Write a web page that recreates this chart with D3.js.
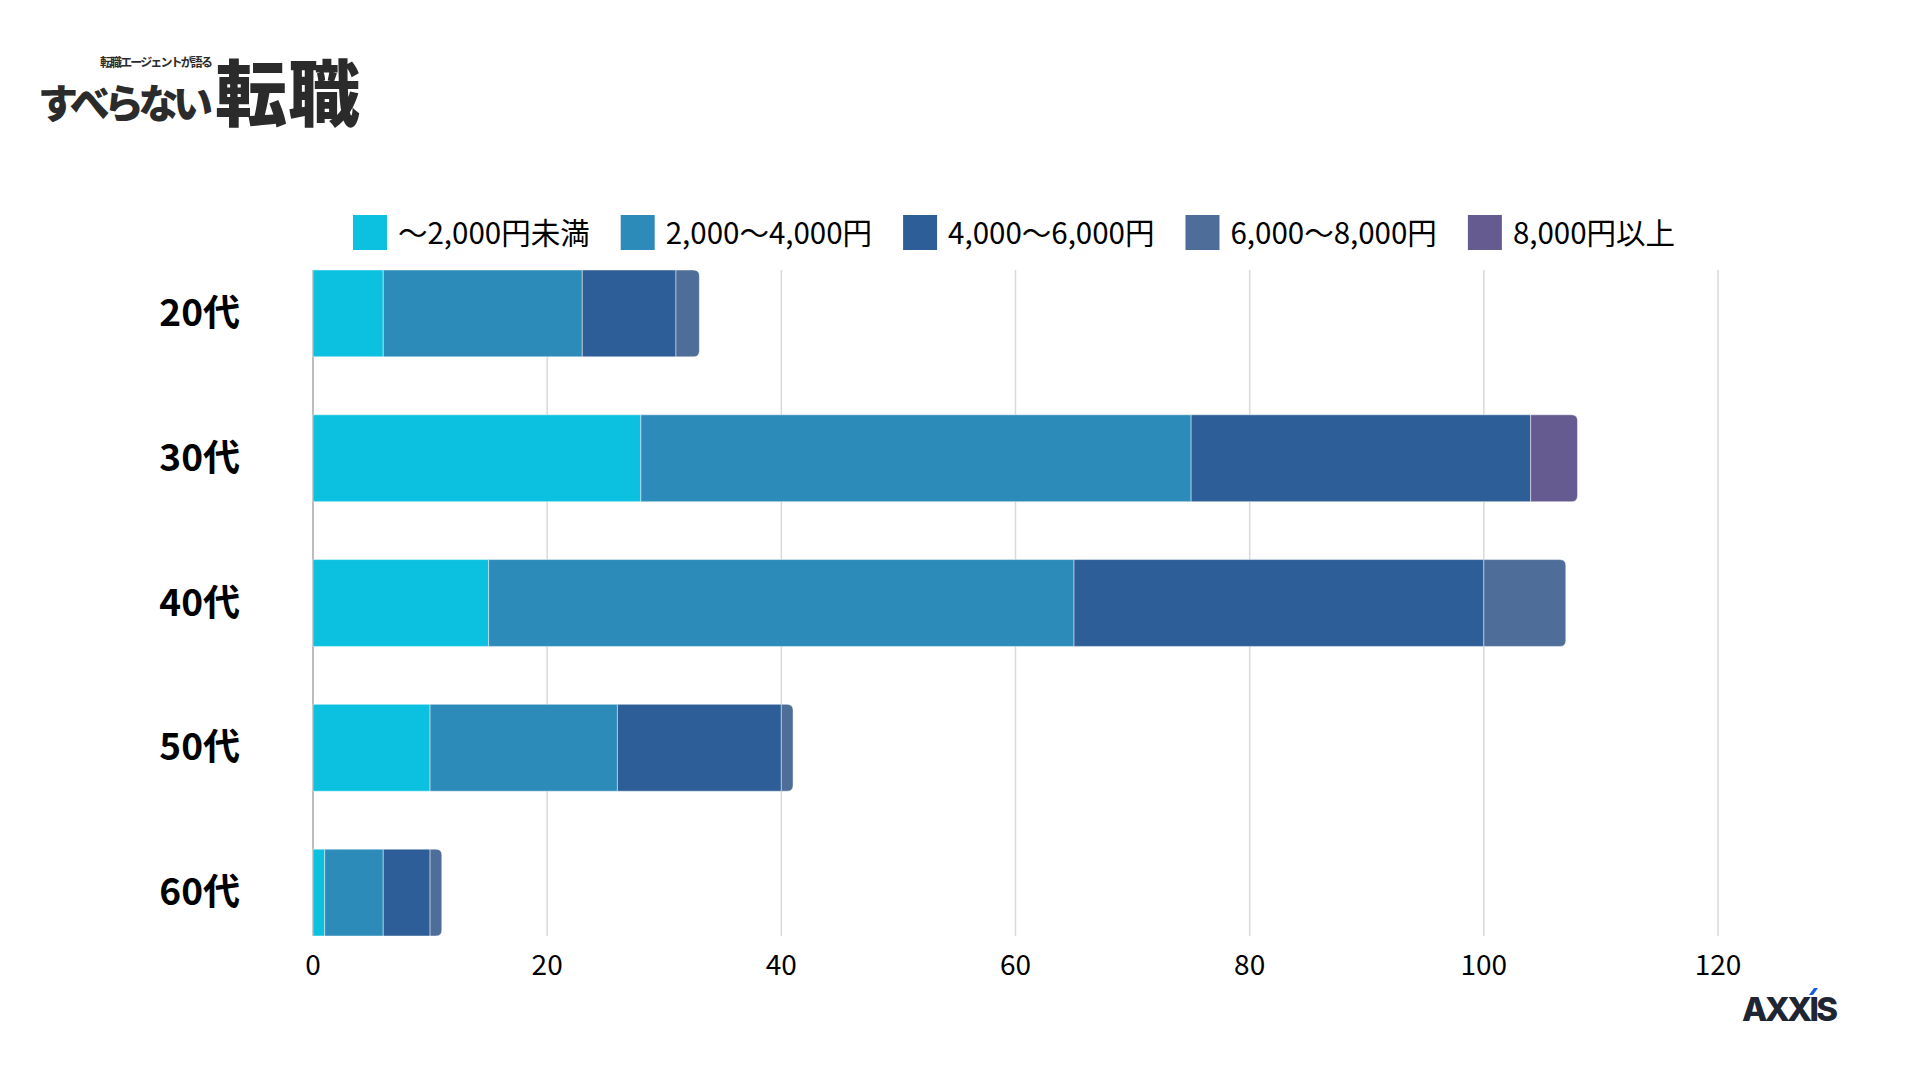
<!DOCTYPE html>
<meta charset="utf-8">
<style>
body { margin: 0; background: #fff; }
text { font-family: "Noto Sans CJK JP", "Noto Sans", sans-serif; }
</style>
<svg width="1920" height="1080"></svg>
<script src="https://d3js.org/d3.v7.min.js"></script>
<script>
var svg = d3.select("svg");

// data
var ages = ["20代", "30代", "40代", "50代", "60代"];
var bands = ["～2,000円未満", "2,000～4,000円", "4,000～6,000円", "6,000～8,000円", "8,000円以上"];
var under2000 = [6, 28, 15, 10, 1];
var from2000 = [17, 47, 50, 16, 5];
var from4000 = [8, 29, 35, 14, 4];
var from6000 = [2, 0, 7, 1, 1];
var over8000 = [0, 4, 0, 0, 0];
var xTicks = [0, 20, 40, 60, 80, 100, 120];
var colors = ["#0cc1df", "#2c8bb8", "#2e5e97", "#4e6e99", "#655b91"];

var series = [under2000, from2000, from4000, from6000, over8000];
var rows = ages.map(function(a, i) {
	var r = { age: a };
	bands.forEach(function(b, j) { r[b] = series[j][i]; });
	return r;
});

var plotLeft = 313, plotRight = 1718, plotTop = 270, plotBottom = 936;
var x = d3.scaleLinear().domain([0, 120]).range([plotLeft, plotRight]);
var y = d3.scaleBand().domain(ages).range([plotTop, plotBottom]).paddingInner(0.4).paddingOuter(0);

// grid
svg.append("g").selectAll("line")
	.data(xTicks.slice(1))
	.join("line")
	.attr("x1", function(d) { return x(d); })
	.attr("x2", function(d) { return x(d); })
	.attr("y1", plotTop)
	.attr("y2", plotBottom)
	.style("stroke", "#d9d9d9")
	.style("stroke-width", 1.5);

svg.append("line")
	.attr("x1", x(0)).attr("x2", x(0))
	.attr("y1", plotTop).attr("y2", plotBottom)
	.style("stroke", "#a6a6a6")
	.style("stroke-width", 1.5);

// bars
var stack = d3.stack().keys(bands)(rows);
var radius = 6;

stack.forEach(function(layer, j) {
	svg.append("g").selectAll("path")
		.data(layer.filter(function(d) { return d[1] > d[0]; }))
		.join("path")
		.attr("d", function(d) {
			var x0 = x(d[0]), x1 = x(d[1]);
			var y0 = y(d.data.age), h = y.bandwidth();
			// round only the last non-empty segment of a row
			var last = true;
			for (var k = j + 1; k < bands.length; k++) {
				if (d.data[bands[k]] > 0) last = false;
			}
			var r = last ? Math.min(radius, x1 - x0) : 0;
			return "M" + x0 + "," + y0 +
				"H" + (x1 - r) +
				"Q" + x1 + "," + y0 + " " + x1 + "," + (y0 + r) +
				"V" + (y0 + h - r) +
				"Q" + x1 + "," + (y0 + h) + " " + (x1 - r) + "," + (y0 + h) +
				"H" + x0 + "Z";
		})
		.style("fill", colors[j])
		.style("stroke", "rgba(255,255,255,0.45)")
		.style("stroke-width", 1);
});

// category labels
svg.append("g").selectAll("text")
	.data(ages)
	.join("text")
	.attr("x", 240)
	.attr("y", function(d) { return y(d) + y.bandwidth() / 2; })
	.attr("dy", "0.34em")
	.style("text-anchor", "end")
	.style("font-size", "37px")
	.style("font-weight", 700)
	.style("fill", "#000")
	.text(function(d) { return d; });

// x tick labels
svg.append("g").selectAll("text")
	.data(xTicks)
	.join("text")
	.attr("x", function(d) { return x(d); })
	.attr("y", 975)
	.style("text-anchor", "middle")
	.style("font-size", "28px")
	.style("fill", "#000")
	.text(function(d) { return d; });

// legend
var legend = svg.append("g");
var lx = 353;
bands.forEach(function(b, j) {
	legend.append("rect")
		.attr("x", lx).attr("y", 215)
		.attr("width", 34).attr("height", 35)
		.style("fill", colors[j]);
	var t = legend.append("text")
		.attr("x", lx + 45)
		.attr("y", 244)
		.style("font-size", "29.5px")
		.style("fill", "#000")
		.text(b);
	lx += 45 + t.node().getComputedTextLength() + 31;
});

// logo top-left
var logo = svg.append("g").style("fill", "#2b2b2b");
logo.append("text")
	.attr("x", 100).attr("y", 67)
	.attr("textLength", 113)
	.style("font-size", "12px")
	.style("font-weight", 700)
	.text("転職エージェントが語る");
logo.append("text")
	.attr("x", 38).attr("y", 118)
	.attr("textLength", 175)
	.style("font-size", "40px")
	.style("font-weight", 900)
	.text("すべらない");
logo.append("text")
	.attr("x", 215).attr("y", 120)
	.attr("textLength", 145)
	.style("font-size", "72px")
	.style("font-weight", 900)
	.text("転職");

// AXXIS mark bottom-right
svg.append("text")
	.attr("x", 1742).attr("y", 1021)
	.attr("textLength", 96)
	.style("font-family", "Inter, 'Open Sans', sans-serif")
	.style("font-size", "33px")
	.style("font-weight", 800)
	.style("fill", "#1e2533")
	.text("AXXIS");
svg.append("path")
	.attr("d", "M1809,995 L1814,988 L1818,988 L1813,995 Z")
	.style("fill", "#1a5fd6");
</script>
